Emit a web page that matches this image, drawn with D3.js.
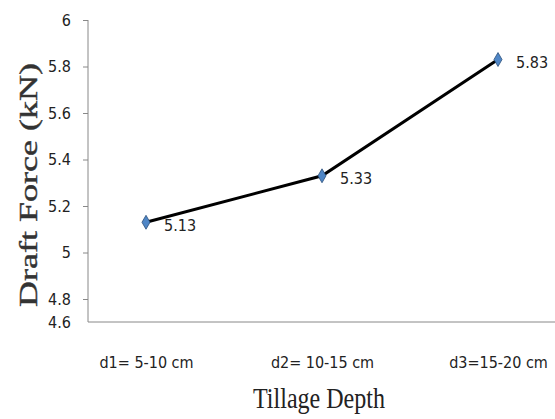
<!DOCTYPE html>
<html><head><meta charset="utf-8">
<script src="https://cdn.jsdelivr.net/npm/d3@7"></script>
<style>body{margin:0;background:#fff}svg{display:block}</style>
</head><body>
<script>
const categories = ["d1= 5-10 cm", "d2= 10-15 cm", "d3=15-20 cm"];
const values = [5.13, 5.33, 5.83];
const yTicks = [4.6, 4.8, 5, 5.2, 5.4, 5.6, 5.8, 6];
const yTitle = "Draft Force (kN)";
const xTitle = "Tillage Depth";

const W = 555, H = 419;
const svg = d3.select("body").append("svg").attr("width", W).attr("height", H);
const narrow = "'Liberation Sans Narrow','DejaVu Sans Condensed',sans-serif";
const serif = "'Liberation Serif','Times New Roman',serif";

// piecewise scale: the bottom gap (4.6-4.8) is compressed as in the reference
const y = d3.scaleLinear().domain([4.6, 4.8, 6]).range([322, 299, 20]);
const x = d3.scalePoint().domain(categories).range([146, 498]);

const axisX0 = 88;
// y axis
const ya = svg.append("g").attr("transform", `translate(${axisX0},0)`)
  .call(d3.axisLeft(y).tickValues(yTicks).tickFormat(d3.format("~g")).tickSize(5).tickPadding(12));
ya.select(".domain").attr("stroke", "#888").attr("d", `M-0,${y(6)}V${y(4.6)}`);
ya.selectAll(".tick line").attr("stroke", "#888");
ya.selectAll(".tick").filter(d => d === 4.6).select("line").remove();
ya.selectAll(".tick text").attr("font-family", narrow).attr("font-size", 16).attr("fill", "#222");

// x axis
const xa = svg.append("g").attr("transform", `translate(0,${y(4.6)})`)
  .call(d3.axisBottom(x).tickSize(0).tickPadding(35));
xa.select(".domain").attr("stroke", "#888").attr("d", `M${axisX0},0H${W}`);
xa.selectAll(".tick text").attr("font-family", narrow).attr("font-size", 16).attr("fill", "#222");

// line
const data = categories.map((c, i) => ({c, v: values[i]}));
svg.append("path").datum(data)
  .attr("fill", "none").attr("stroke", "#000").attr("stroke-width", 3)
  .attr("d", d3.line().x(d => x(d.c)).y(d => y(d.v)));

// markers
svg.selectAll(".m").data(data).join("path")
  .attr("transform", d => `translate(${x(d.c)},${y(d.v)})`)
  .attr("d", d3.symbol(d3.symbolDiamond, 56))
  .attr("fill", "#4f86c6").attr("stroke", "#2b4f7a").attr("stroke-width", 0.8);

// data labels
svg.selectAll(".lbl").data(data).join("text")
  .attr("x", d => x(d.c) + 18).attr("y", d => y(d.v) + 4)
  .attr("dominant-baseline", "middle")
  .attr("font-family", narrow).attr("font-size", 16).attr("fill", "#222")
  .text(d => d3.format(".2f")(d.v));

// titles
svg.append("text").attr("transform", `translate(37,${185}) rotate(-90)`)
  .attr("text-anchor", "middle").attr("font-family", serif).attr("font-size", 26)
  .attr("stroke", "#333").attr("stroke-width", 0.4)
  .attr("textLength", 244).attr("lengthAdjust", "spacingAndGlyphs")
  .attr("fill", "#333").text(yTitle);
svg.append("text").attr("x", 319).attr("y", 408)
  .attr("text-anchor", "middle").attr("font-family", serif).attr("font-size", 29)
  .attr("textLength", 132).attr("lengthAdjust", "spacingAndGlyphs")
  .attr("fill", "#222").text(xTitle);
</script>
</body></html>
